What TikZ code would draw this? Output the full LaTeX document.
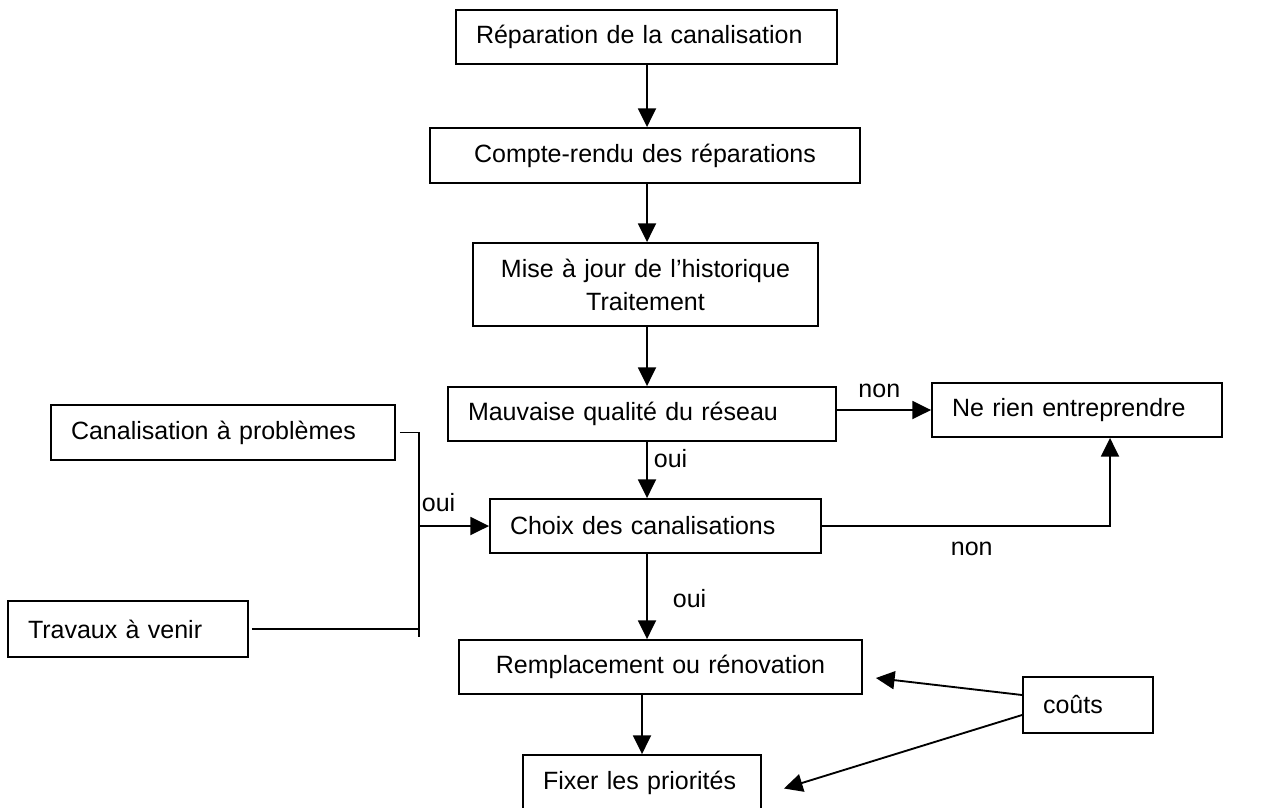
\documentclass[tikz,border=0pt]{standalone}
\usepackage{fontspec}
\setmainfont{Liberation Sans}
\usepackage{tikz}
\usetikzlibrary{arrows.meta,positioning,calc}
\newlength{\pixel}
\setlength{\pixel}{0.75pt}
\newcommand\police{\fontsize{18.75pt}{24.75pt}\selectfont}
\tikzset{
  boite/.style={draw, line width=1.4pt, inner xsep=20\pixel, inner ysep=0pt, minimum height=54\pixel, font=\police},
  trait/.style={line width=1.4pt},
  fleche/.style={trait, -{Triangle[length=14pt,width=13.5pt]}},
  etiq/.style={font=\police, inner sep=0pt}
}

\begin{document}
\begin{tikzpicture}[x=0.75pt, y=-0.75pt]
\useasboundingbox (0,0) rectangle (1277,807);
%\fill[white] (0,0) rectangle (1277,807);
\coordinate (axe) at (647,0);
\coordinate (jonction) at (419,0);
\coordinate (coude) at (1110,0);

% colonne principale
\node[boite, align=left, text width=341\pixel] (reparation) at (646.5,37) {Réparation de la canalisation};
\node[boite, align=center, text width=390\pixel, minimum height=55\pixel] (compterendu) at (645,155.5) {Compte-rendu des réparations};
\node[boite, align=center, text width=305\pixel, minimum height=83\pixel] (historique) at (645.5,284.5) {Mise à jour de l’historique\\Traitement};
\node[boite, align=left, text width=348\pixel] (qualite) at (642,414) {Mauvaise qualité du réseau};
\node[boite, align=left, text width=250\pixel] (rien) at (1077,410) {Ne rien entreprendre};
\node[boite, align=left, text width=291\pixel] (choix) at (655.5,526) {Choix des canalisations};
\node[boite, align=center, text width=363\pixel] (remplacement) at (660.5,667) {Remplacement ou rénovation};
\node[boite, align=left, text width=198\pixel, minimum height=55\pixel] (priorites) at (642,782.5) {Fixer les priorités};

% entrees a gauche, couts a droite
\node[boite, align=left, text width=304\pixel, minimum height=55\pixel] (problemes) at (223,432.5) {Canalisation à problèmes};
\node[boite, align=left, text width=200\pixel, minimum height=56\pixel] (travaux) at (128,629) {Travaux à venir};
\node[boite, align=left, text width=90\pixel, minimum height=56\pixel] (couts) at (1088,705) {coûts};

\draw[fleche] (axe |- reparation.south) -- (axe |- compterendu.north);
\draw[fleche] (axe |- compterendu.south) -- (axe |- historique.north);
\draw[fleche] (axe |- historique.south) -- (axe |- qualite.north);
\draw[fleche] (qualite.east |- rien.west) -- node[etiq, above=11\pixel, pos=0.45] {non} (rien.west);
\draw[fleche] (axe |- qualite.south) -- node[etiq, right=6\pixel, pos=0.3] {oui} (axe |- choix.north);
\draw[fleche] (choix.east) -| node[etiq, below=15\pixel, pos=0.26] {non} (coude |- rien.south);
\draw[fleche] (axe |- choix.south) -- node[etiq, right=25\pixel, pos=0.52] {oui} (axe |- remplacement.north);
\draw[fleche] (priorites.north |- remplacement.south) -- (priorites.north);

\draw[trait] ([xshift=4\pixel]problemes.east) -| ($(jonction |- travaux.east)+(0,8)$);
\draw[trait] ([xshift=3\pixel]travaux.east) -- (jonction |- travaux.east);
\draw[fleche] (jonction |- choix.west) -- node[etiq, above right=13\pixel and 2\pixel, pos=0] {oui} (choix.west);

\draw[fleche] ([yshift=10\pixel]couts.west) -- ([xshift=13\pixel, yshift=-11\pixel]remplacement.east);
\draw[fleche] ([yshift=-10\pixel]couts.west) -- ([xshift=22\pixel, yshift=-6\pixel]priorites.east);
\end{tikzpicture}
\end{document}
